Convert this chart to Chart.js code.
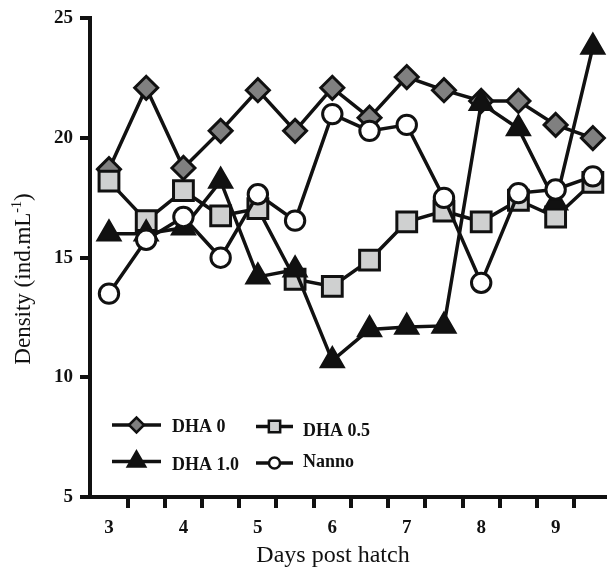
<!DOCTYPE html>
<html>
<head>
<meta charset="utf-8">
<script src="https://cdn.jsdelivr.net/npm/chart.js@4/dist/chart.umd.min.js"></script>
<style>
  html, body { margin: 0; padding: 0; background: #fff; }
  canvas { display: block; }
</style>
</head>
<body>
<canvas id="densityChart" width="607" height="571"></canvas>
<script>
// --- Data ---
const days = [3, 3.5, 4, 4.5, 5, 5.5, 6, 6.5, 7, 7.5, 8, 8.5, 9, 9.5];
const dha0 = [18.7, 22.1, 18.75, 20.3, 22.0, 20.3, 22.1, 20.85, 22.55, 22.0, 21.55, 21.55, 20.55, 20.0];
const dha05 = [18.2, 16.55, 17.8, 16.75, 17.05, 14.1, 13.8, 14.9, 16.5, 16.95, 16.5, 17.4, 16.7, 18.15];
const dha10 = [16.0, 16.0, 16.25, 18.2, 14.2, 14.5, 10.7, 12.0, 12.1, 12.15, 21.45, 20.4, 17.3, 23.8];
const nanno = [13.5, 15.75, 16.7, 15.0, 17.65, 16.55, 21.0, 20.3, 20.55, 17.5, 13.95, 17.7, 17.85, 18.4];

const xLabelTicks = [3, 4, 5, 6, 7, 8, 9];          // labelled days
const xMarkTicks = [3.25, 3.75, 4.25, 4.75, 5.25, 5.75, 6.25, 6.75, 7.25, 7.75, 8.25, 8.75, 9.25]; // tick marks
const yTicks = [5, 10, 15, 20, 25];

const ink = '#111111';
const serif = "'Liberation Serif', 'DejaVu Serif', serif";

function toPoints(vals) {
    return days.map((d, i) => ({ x: d, y: vals[i] }));
}

// series styles (shared by chart and legend)
const seriesDefs = [
    { label: 'DHA 0',   data: dha0,  style: 'rectRot',  fill: '#808080', radius: 11.5, bw: 3, order: 3, legendRadius: 7.5 },
    { label: 'DHA 0.5', data: dha05, style: 'rect',     fill: '#cfd0d0', radius: 14,   bw: 3, order: 2, legendRadius: 8 },
    { label: 'DHA 1.0', data: dha10, style: 'triangle', fill: ink,       radius: 13.5, bw: 2, order: 1, legendRadius: 10 },
    { label: 'Nanno',   data: nanno, style: 'circle',   fill: '#ffffff', radius: 9.7,  bw: 3, order: 0, legendRadius: 5.5 }
];

const datasets = seriesDefs.map(s => ({
    label: s.label,
    data: toPoints(s.data),
    borderColor: ink,
    borderWidth: 3.5,
    tension: 0,
    fill: false,
    pointStyle: s.style,
    pointRadius: s.radius,
    pointBackgroundColor: s.fill,
    pointBorderColor: ink,
    pointBorderWidth: s.bw,
    order: s.order,
    clip: false
}));

// --- legend inside the plot + axis titles (drawn on canvas) ---
const legendSpots = [
    { lx0: 112, lx1: 161, ly: 425, tx: 172, ty: 432 },
    { lx0: 256, lx1: 293, ly: 426.5, tx: 303, ty: 436 },
    { lx0: 112, lx1: 161, ly: 461.5, tx: 172, ty: 470 },
    { lx0: 256, lx1: 293, ly: 463, tx: 303, ty: 467 }
];

function drawMarker(ctx, s, radius, x, y) {
    ctx.save();
    ctx.fillStyle = s.fill;
    ctx.strokeStyle = ink;
    ctx.lineWidth = 2.5;
    Chart.helpers.drawPoint(ctx, { pointStyle: s.style, radius: radius, rotation: 0, borderWidth: 2.5 }, x, y);
    ctx.restore();
}

const overlayPlugin = {
    id: 'overlay',
    afterDraw(chart) {
        const ctx = chart.ctx;
        ctx.save();
        // legend
        seriesDefs.forEach((s, i) => {
            const p = legendSpots[i];
            ctx.strokeStyle = ink;
            ctx.lineWidth = 3.5;
            ctx.beginPath();
            ctx.moveTo(p.lx0, p.ly);
            ctx.lineTo(p.lx1, p.ly);
            ctx.stroke();
            drawMarker(ctx, s, s.legendRadius, (p.lx0 + p.lx1) / 2, p.ly);
            ctx.fillStyle = ink;
            ctx.font = "bold 18px " + serif;
            ctx.textAlign = 'left';
            ctx.textBaseline = 'alphabetic';
            ctx.fillText(s.label, p.tx, p.ty);
        });

        // x title
        ctx.fillStyle = ink;
        ctx.font = "24px " + serif;
        ctx.textAlign = 'center';
        ctx.textBaseline = 'alphabetic';
        ctx.fillText('Days post hatch', 333, 562);

        // y title with superscript
        const main = 'Density (ind.mL';
        const sup = '-1';
        const tail = ')';
        ctx.translate(30, 279);
        ctx.rotate(-Math.PI / 2);
        ctx.font = "23px " + serif;
        const wMain = ctx.measureText(main).width;
        const wTail = ctx.measureText(tail).width;
        ctx.font = "14px " + serif;
        const wSup = ctx.measureText(sup).width;
        let x = -(wMain + wSup + wTail) / 2;
        ctx.textAlign = 'left';
        ctx.font = "23px " + serif;
        ctx.fillText(main, x, 0);
        x += wMain;
        ctx.font = "14px " + serif;
        ctx.fillText(sup, x, -9);
        x += wSup;
        ctx.font = "23px " + serif;
        ctx.fillText(tail, x, 0);
        ctx.restore();
    }
};

const ctx = document.getElementById('densityChart').getContext('2d');
const densityChart = new Chart(ctx, {
    type: 'line',
    data: { datasets: datasets },
    options: {
        responsive: false,
        animation: false,
        devicePixelRatio: 1,
        layout: { autoPadding: false, padding: { left: 0, right: 0, top: 15, bottom: 0 } },
        plugins: {
            legend: { display: false },
            tooltip: { enabled: false }
        },
        scales: {
            x: {
                type: 'linear',
                min: 2.745,
                max: 9.69,
                afterBuildTicks(axis) {
                    axis.ticks = xLabelTicks.concat(xMarkTicks)
                        .sort((a, b) => a - b)
                        .map(v => ({ value: v }));
                },
                afterFit(scale) { scale.height = 74; },
                border: { display: true, color: ink, width: 4 },
                grid: {
                    drawOnChartArea: false,
                    drawTicks: true,
                    tickLength: 11,
                    tickWidth: 4,
                    lineWidth: 4,
                    tickColor: c => (c.tick && xMarkTicks.includes(c.tick.value)) ? ink : 'rgba(0,0,0,0)'
                },
                ticks: {
                    autoSkip: false,
                    maxRotation: 0,
                    padding: 9,
                    color: ink,
                    font: { family: serif, size: 19, weight: 'bold' },
                    callback: v => xLabelTicks.includes(v) ? String(v) : ''
                }
            },
            y: {
                min: 5,
                max: 25,
                afterBuildTicks(axis) {
                    axis.ticks = yTicks.map(v => ({ value: v }));
                },
                afterFit(scale) { scale.width = 90; },
                border: { display: true, color: ink, width: 4 },
                grid: {
                    drawOnChartArea: false,
                    drawTicks: true,
                    tickLength: 10,
                    tickWidth: 4,
                    lineWidth: 4,
                    tickColor: ink
                },
                ticks: {
                    padding: 7,
                    color: ink,
                    font: { family: serif, size: 19, weight: 'bold' }
                }
            }
        }
    },
    plugins: [overlayPlugin]
});
</script>
</body>
</html>
